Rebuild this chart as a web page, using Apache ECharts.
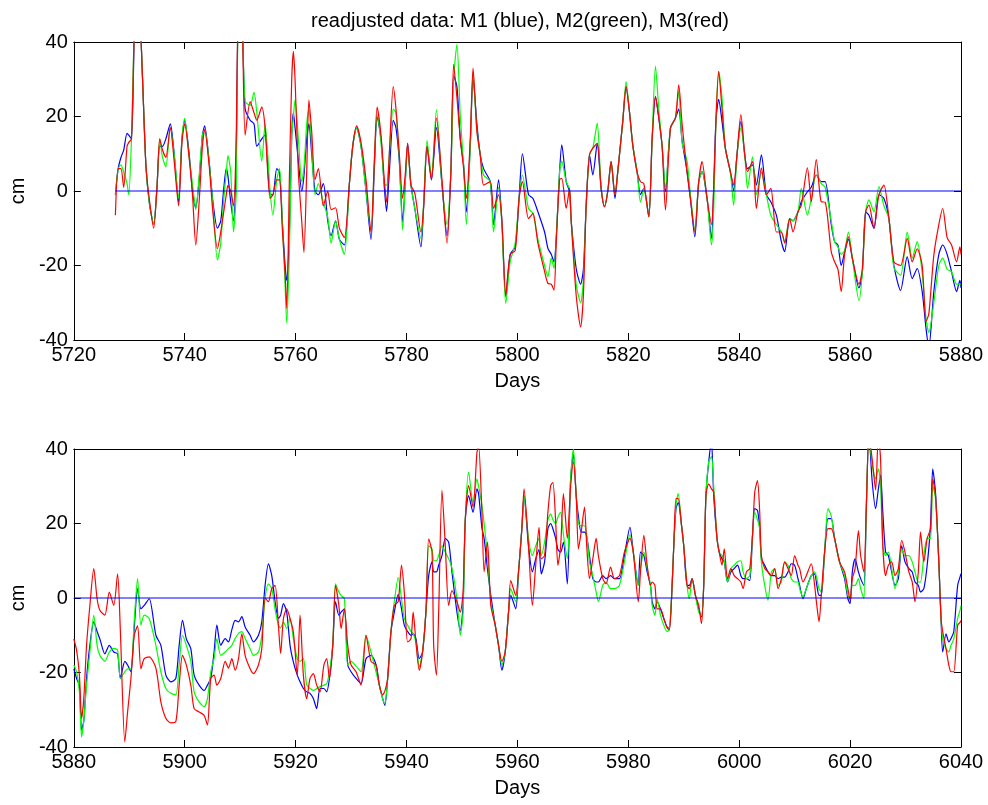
<!DOCTYPE html>
<html>
<head>
<meta charset="utf-8">
<script src="https://cdn.jsdelivr.net/npm/echarts@6/dist/echarts.min.js"></script>
<style>
  html, body { margin: 0; padding: 0; background: #ffffff; }
  #chart { width: 988px; height: 805px; }
</style>
</head>
<body>
<div id="chart"></div>
<script>
// ---- Upper panel: days 5720 - 5880 ----
const topDays = [5727.5,5728.0,5728.5,5729.0,5729.6,5729.9,5730.4,5731.0,5731.5,5732.0,5732.4,5733.0,5733.6,5734.4,5735.0,5735.5,5736.0,5736.6,5737.4,5738.1,5738.9,5739.5,5740.0,5740.8,5741.4,5742.0,5742.6,5743.2,5743.6,5744.4,5745.1,5745.9,5746.5,5747.0,5747.5,5747.8,5748.3,5748.8,5749.3,5749.6,5750.0,5750.4,5750.9,
  5751.8,5752.5,5753.0,5753.9,5754.5,5755.4,5755.9,5756.6,5757.1,5757.6,5758.1,5758.4,5758.9,5759.3,5759.6,5759.9,5760.5,5761.1,5761.5,5762.0,5762.4,5762.9,5763.5,5764.1,5765.0,5765.8,5766.4,5767.2,5767.9,5768.8,5769.7,5770.3,5771.0,5771.8,5772.7,5773.6,5774.2,5774.7,5775.4,5776.0,5776.4,5776.9,5777.6,
  5778.1,5778.7,5779.3,5779.8,5780.2,5780.8,5781.5,5782.6,5783.1,5783.7,5784.5,5785.4,5786.4,5787.3,5788.0,5788.5,5789.1,5789.7,5790.3,5790.8,5791.5,5792.0,5792.7,5793.3,5793.9,5795.1,5795.7,5796.6,5797.2,5797.9,5798.7,5799.6,5800.3,5800.9,5802.0,5802.8,
  5803.7,5804.9,5805.5,5806.1,5806.6,5807.0,5807.6,5808.0,5808.8,5809.4,5809.7,5810.6,5811.4,5811.9,5812.4,5813.0,5813.6,5814.4,5815.1,5815.7,5816.3,5816.9,5817.6,5818.1,5819.0,5819.6,5820.2,5820.8,5821.6,5822.2,5822.8,5823.7,5824.3,5824.9,5825.5,5826.1,5826.7,5827.6,5828.5,5829.1,5829.7,
  5830.6,5831.2,5832.0,5832.7,5833.3,5834.2,5835.0,5835.4,5835.8,5836.3,5836.9,5837.5,5838.4,5839.0,5839.6,5840.3,5841.0,5841.5,5842.4,5843.1,5844.0,5844.9,5845.7,5846.7,5847.6,5848.2,5849.1,5849.7,5850.6,5851.2,5852.3,5853.0,5853.9,5854.8,5855.5,
  5856.6,5857.2,5857.8,5858.4,5859.0,5859.7,5860.4,5861.6,5862.2,5862.8,5863.4,5864.3,5865.2,5866.1,5867.0,5867.9,5869.1,5870.3,5871.2,5872.1,5873.0,5873.7,5874.2,5875.1,5876.0,5876.7,5877.5,5878.3,5879.2,5879.8,5880.0];

const topM1 = [-1,6,9,11,15.5,15,14,48,55,45,30,7,-3,-9,1,12,12,14,18,10,-3,14,19,10,0,-4.5,3,15,17.5,8,-3,-10,-8,0,6,4,-3,-8,10,48,55,45,22,
  19,18,12,14,15,-1,-1,6,5,-8,-20,-24,-10,15,21,17,8,0,4,14,18,10,0,-1,2,-8,-12,-8,-13,-14.5,2,12,17,12,0,-13,6,20,14,1,-5.5,5,19,
  17,8,-8.3,3,12.8,1.6,-4.7,-15,-4,12,3,17,1.6,-12,5,31,28,14,7,-5.6,12.4,30.3,18,9.7,6,2.5,-9,3,-8,-28.4,-17,-15,-2,10,-1,-2,
  -5.6,-11,-15.4,-17,-19,-12.7,5,12.4,2.5,-0.2,-8,-20.8,-25,-21,-4,9.7,4.3,12.8,0.7,-4.2,0,7.9,-2,5.2,18.7,28,21.4,12.4,5,-1,0.7,-6.9,14,25.4,19.6,12,-0.2,16.9,19.6,22,13.5,
  5.2,-2,-12.3,2.5,5.2,-2,-12.7,0.7,18.7,24.6,18.7,11.5,5.2,0,9.7,18.7,9.7,6,7,1.6,9.7,-1,-2.9,-6.5,-13.6,-16.3,-7.4,-8,-5.6,-2.9,-0.2,1,4.3,2.5,2.5,
  -9,-13.6,-14.5,-20,-16.5,-13,-18,-26,-22,-5.6,-6.5,-10,-1,-2,-7.4,-20,-26.7,-17.7,-23.5,-20.8,-27,-37,-42,-27,-17,-14.5,-17,-21.7,-27,-24,-26];

const topM2 = [-1,6,7,5,2,-1,14,48,55,45,30,7,-3,-9,1,14,9,6.5,17,10,-2,14,19.5,9,2,-5,4,15,16.5,8,-4,-18.5,-14,-3,5,9.5,5,-11,0,48,55,45,24,
  23,26.5,21,8,18,0,-6.5,3,6,-8,-25,-35.5,-15,15,20,24.5,14,2.5,6,18,22,12,-1,2,-3,-7,-14,-8,-13,-17,2,12,17,12,0,-11,8,20.5,13,2,1.5,10,22,
  21,9,-10.5,3,12,1.6,-4.7,-12.7,-3,13.5,4,21.8,1.6,-9,5,30,39.4,20,7,-9,12,32,16,9.7,4.3,2.5,-11,1,-9,-30.2,-19,-14,-2,4.3,-4.7,-6,
  -13,-20,-23,-18,-20.7,-12.7,5,8,2.5,0.5,-8,-25,-30,-24,-4,9.7,11.5,18.2,0.7,-4.2,0,7.9,-1,5.2,18.7,29.4,21.4,12.4,5,-3,0.7,-6.9,14,33.5,22,12,0.7,16.9,19.6,26.8,13,
  8,-1,-10.5,2.5,5.2,-2,-14.5,-5,18.7,32.1,25,11.5,5.2,-3.8,9.7,16.9,9.7,0.7,9.2,-1,5,-1,-6.5,-9,-11,-13.6,-7.4,-8,-5.6,0.7,-6.5,-2,4.3,2,1,
  -8,-13.6,-15,-17,-16,-11,-18,-29.4,-22,-5.6,-2.4,-5.6,1.2,-4,-7.4,-20.6,-22.6,-11,-18,-13.6,-22,-34.3,-38,-30,-20,-18,-21,-21.7,-25,-25,-25];

const topM3 = [-6.5,6,6,1,12,13,14,48,55,45,30,7,-2,-10,1,14,11,9,17,8,-4,13,18,9,-1,-14.5,-3,12,16.5,7,-6,-15.5,-11,-6,-1,1.5,0,-4,15,48,55,45,15,
  24,21,19,22.5,17,-2,-1,3,3,-10,-22,-31.5,5,30,37.5,30,5,-8,-16.5,5,24.5,16,3,6,-4,0,-5,-4.5,-10,-12.5,2,12,17.5,13,3,-11,8,22.5,15,3,-3,10,28,
  22,10,-2,5,12.8,1.6,-0.6,-11,-4,12,3,19.6,3,-14,5,34,25,14,6,-2,14,33,16,9.7,1.6,2.5,-4.7,-1,-8,-28,-17,-16,-2,2.5,-7.4,-6,
  -14,-21.6,-24.8,-25,-26.6,-14,3,3.4,-4.7,0.7,-8,-28,-36.5,-28,-4,9.7,11.5,12.8,0.7,-4.2,0,7.9,-1,5.2,18.7,28,21.4,12.4,5,2.5,2,-6.9,14,25.4,19.6,12,-5.1,16.9,19.6,28.5,18,
  5,-2,-11,2.5,7.9,-2,-9,0.7,18.7,32.1,22,11.5,5.2,1.6,9.7,20.5,9.7,5.2,7.9,-4.7,6.2,-1,0.7,-11,-11,-14,-7.4,-11,-5.6,-3.8,6.2,-2.9,8.4,-2.9,-3,
  -16.3,-19,-21,-27,-17,-12.3,-18,-25,-21,-5.6,-3.8,-10,-1,1.6,-7.4,-19,-20,-12.7,-19,-15.5,-20,-35,-33,-17.2,-9,-4.7,-12.5,-14.5,-19,-15,-17];

// ---- Lower panel: days 5880 - 6040 ----
const botDays = [5880.0,5880.5,5881.0,5881.4,5881.8,5882.3,5882.9,5883.6,5884.2,5884.7,5885.6,5886.4,5887.2,5887.9,5888.4,5889.2,5889.7,5890.3,5890.9,5891.5,5892.1,5892.7,5893.6,5894.8,5895.7,5896.6,5897.5,5898.4,5899.0,5899.6,5900.3,5901.1,5901.7,5902.6,5903.5,5904.1,5904.7,5905.3,5905.8,
  5906.5,5907.3,5907.9,5908.5,5909.1,5909.7,5910.3,5910.9,5911.8,5912.4,5913.3,5913.9,5914.5,5915.1,5915.7,5916.3,5916.9,5917.3,5917.8,5918.4,5919.0,5919.6,5920.3,5920.8,5921.4,5922.0,5922.6,5923.2,5923.8,5924.4,5925.1,5925.6,5926.1,5926.7,5927.2,5927.8,5928.2,5928.8,5929.4,5930.0,5930.9,5931.8,5932.7,
  5933.6,5934.5,5935.1,5935.7,5936.1,5936.6,5937.2,5937.8,5938.5,5939.1,5939.6,5940.2,5940.8,5941.2,5941.7,5942.3,5942.9,5943.5,5944.0,5944.6,5944.9,5945.4,5945.8,5946.4,5947.0,5947.6,5948.2,5949.1,5949.7,5950.2,5950.6,5951.2,5952.0,5952.7,5953.0,5953.6,5954.0,5954.6,5955.2,5956.0,5956.6,5957.2,5957.8,5958.4,
  5958.8,5959.7,5960.2,5960.8,5961.2,5962.0,5962.7,5963.3,5963.9,5964.3,5964.9,5965.5,5966.0,5966.4,5966.9,5967.3,5967.8,5968.3,5969.0,5969.6,5970.1,5970.6,5971.0,5971.5,5972.1,5972.5,5973.0,5973.6,5974.2,5974.6,5975.4,5976.0,5976.8,5977.5,5978.4,5979.3,5980.3,5980.9,5981.8,5982.2,5982.8,5983.4,5984.0,
  5984.3,5984.8,5985.2,5985.8,5986.4,5987.0,5987.4,5987.8,5988.2,5988.6,5989.0,5989.6,5990.0,5990.6,5991.0,5991.5,5992.1,5992.7,5993.2,5993.6,5994.0,5994.5,5995.0,5995.4,5996.0,5996.4,5996.9,5997.3,5997.9,5998.5,5999.1,5999.7,6000.3,6000.7,6001.3,6001.9,6002.4,6002.8,6003.3,6003.7,6004.0,6004.6,6005.2,6005.8,6006.4,6007.0,6007.6,6008.2,6008.8,6009.4,6010.0,6010.6,
  6010.9,6011.5,6012.1,6013.0,6013.6,6014.0,6014.4,6014.8,6015.4,6016.0,6016.6,6017.2,6018.1,6019.0,6019.6,6020.0,6020.4,6020.9,6021.5,6021.9,6022.5,6022.9,6023.4,6024.0,6024.6,6025.1,6025.5,6025.9,6026.4,6026.9,6027.5,6028.1,6028.7,6029.3,6029.9,6030.6,6031.2,6031.7,6032.3,6032.7,6033.3,6033.9,6034.5,6034.9,6035.4,6036.0,6036.4,6036.7,6037.3,6037.8,6038.2,6038.7,6039.4,6039.9,6040.0];

const botM1 = [-19,-21.6,-23.5,-35.5,-33,-21.6,-12.7,-6.4,-9,-11,-15,-12.7,-14.5,-15,-21.6,-17,-18,-19.8,-8,2.5,-2.9,-2,-0.2,-10,-12.7,-20.7,-22.5,-21.6,-12.7,-6,-11,-13.6,-20.7,-23.4,-24.8,-23.4,-21.6,-14.5,-7.3,
  -12.7,-10.9,-11.8,-8.5,-6,-6.4,-5,-7.8,-10,-11.8,-10,-6.4,3.4,9.2,6,-1,-5.5,-4.6,-1.5,-3.8,-12.7,-17.2,-20.7,-22.5,-24.3,-25.2,-25.6,-27,-29.7,-24.3,-24.3,-25.2,-21.6,-12.7,-1,-4.6,-3.8,-2.9,-18,-19.8,-21.6,-23,-16.3,
  -15.4,-17.9,-23.4,-27,-28.8,-21.6,-9,-3.8,1,-2.9,-7.3,-9,-10,-9.6,-11,-16.3,-14.5,-3.8,6,9.7,7,7,8.8,11.4,16,15,7,-3.8,-8.7,-2,21,27.5,23,29.3,28,18.8,16,7.8,0.7,-7.3,-12.7,-19.4,-14.5,-3.8,
  0.7,-2.9,7,18.6,27.5,14,7,10.5,13,6.5,9.7,18.6,20,18.6,16,13,12.3,15,3.8,32,38.7,27.5,22,17.7,17.7,16.5,11.4,5.2,4.3,4.3,6,5.2,6,5.2,5.2,11.4,19,12.3,3.4,12.3,11.4,7,3.4,
  -1,-2.9,-1,-2.9,-5.5,-7.8,-8.2,0,14,24,25.6,19.5,14,3.4,3.4,5.2,0.7,-2.9,-5.1,3.4,27.5,36.5,42,27.5,15.9,12.3,10.5,9.7,4.3,7,7.9,8.8,6,5.2,5.2,4.7,16.8,24,23.5,18.6,10.5,8.8,7,6,6,5.2,5.6,5.6,7,9.2,8.8,5.2,
  3.4,-0.2,2.5,6,6.5,3.4,0.7,0.7,12.3,21.3,21.3,16,9.7,5.2,-0.2,-1.5,7,10.5,7,5.2,3.4,23,44,31,24,29.3,33,23,12.3,11.4,7,3.4,5.2,14,9.7,7.9,7,4.3,3.4,1.6,2.5,8.8,19.5,34.7,28.4,9.7,-5.5,-14.5,-9.6,-11.8,-10.9,-9,3.4,6,6.5];

const botM2 = [-18,-19.8,-25,-37.3,-33,-23.4,-14.5,-4.6,-12.7,-15.4,-17,-14.5,-13.5,-14,-21.6,-19.8,-19,-19,-6,5.2,-7.3,-4.6,-5.5,-12.7,-19.8,-24.3,-25.6,-26,-18,-10,-12.7,-17,-25.2,-27.9,-29.2,-27,-19.8,-16.3,-10.9,
  -15.4,-14.5,-13.6,-12.7,-10.9,-9.5,-9,-10.9,-13.6,-15.4,-14.5,-10,0,3.8,2.5,-3,-7.3,-8,-6.5,-8.2,-5.5,-10.9,-16.3,-17,-16.3,-23.4,-24.3,-24.8,-24.3,-23.8,-23.4,-23,-19.8,-12.7,3.8,1.6,0.7,-0.2,-18,-17,-18.3,-19.8,-10,
  -14.5,-19.8,-23.4,-27,-28.4,-21.6,-9,-1,5.5,-0.2,-5.5,-7.3,-9,-9.5,-12,-18.5,-14.5,-3.8,14,13.2,10,10,11.4,14,12.3,10.5,8,-0.2,-10,-4,21,33.8,25.6,32,30,25,20,11.4,-1,-7.3,-12.7,-18,-14.5,-3.8,
  2.5,-1,7,18.6,27.5,16,11.4,14,16,11.4,15,21,22.6,21,20,21.7,23,17,10.5,32,40,27.5,20,19.4,19.4,17,9.7,6,1.6,-1,3.4,4.3,2.5,2.5,3.4,9.7,17,12.3,3.4,8,12.3,8,3.4,
  -2,-4.6,-0.2,-4.6,-7.3,-9,-8.2,0,14,25,28,19.5,14,3.4,-0.2,5.2,0.7,-3.8,-4.6,3.4,27.5,36.5,38,30,15.9,12.3,11.4,10,4.3,7.9,8.8,9.7,10,7,5.2,6,16.8,23,21,18.6,9.7,3.4,-0.6,7,7.9,3.4,4.3,9.7,8.8,5.2,4.3,4.3,
  2.5,0.3,2.5,6,7,5.2,2.5,1.6,12.3,24,22,16,9.7,6,0.7,-0.2,3.4,3.4,5.2,2.5,-0.2,23,44,35.6,32,34.7,30,14,11.4,12.3,7.9,2.5,7,13.2,11.4,11.4,9.7,7,4.3,4.3,11.4,16,16,30.2,26.7,9.7,-5.5,-11,-13.6,-14.5,-12.7,-11,-5.5,-2.9,-2];

const botM3 = [-11,-14,-20.5,-32.3,-27,-12.7,-2,7.9,-0.2,-3.3,-4.6,1.6,-2,6.5,-9,-38.6,-30.6,-21.6,-10,-7.5,-19,-16.3,-15.8,-18.8,-27.9,-32.3,-33.5,-33.2,-23.4,-15.4,-18,-23.4,-29.7,-30.6,-31.5,-34.1,-21.6,-20.7,-23.4,
  -21.6,-17,-18.8,-16.3,-19.4,-16.3,-9.6,-15.4,-19,-20.3,-18,-13.6,0,-1,2.5,3.4,-7.3,-14.9,-5.5,-2.9,-5.5,-9.2,-20.7,-4.6,-20.7,-27,-21.6,-20.3,-23.4,-25.2,-18,-16.3,-21.6,-12.7,3.4,-2,-8.2,-2.9,-12.7,-18,-19.8,-23.4,-10,
  -17,-18,-23.4,-26,-25,-21.6,-9,-2,-1,8.8,1.6,-11.8,-11,-3.8,-11.8,-19.4,-14.5,-3.8,15.9,12.3,-12.7,-20.7,-3.8,28.9,14,-2,2,-1,-3.8,1.6,21,30.2,24.4,39,41,23,7,15,-2,-7.3,-12.7,-17,-14.5,-3.8,
  4.7,0.7,7,18.6,29.3,14,-2,8.8,19,10.5,11.4,23,30.2,31,20.5,8.8,14,28,16,30,36.5,27.5,13.2,17.7,24.4,14,5.2,10.5,16,11.4,5.2,3.8,8.3,5.2,6,12.3,16,12.3,-1,7,16.8,8.8,3.4,
  4.3,3.4,-2.9,-2.9,-5.5,-8,-8.6,0,14,26.7,26.7,19.5,14,3.4,2.5,5.2,0.7,-2,-6.9,3.4,27.5,30.6,29.3,28.4,15.9,12.3,8.8,13.2,5.2,7.9,6,5.2,4.3,2.5,7,7.9,16.8,28.4,31.5,23,11.4,7.9,7,6,7.9,2.5,5.2,9.7,7.9,6,11.4,8.8,
  7.9,4.3,6,9.2,3.4,-2,-6.4,0.7,12.3,18.6,18.6,16,9.7,7,2.5,-0.6,5.2,7.9,18.1,11.4,7,23,44,37,29,44,37,14,6,8.8,9.7,6,7.9,15.5,12.3,7,4.3,-1,7,17.7,9.7,16,18.6,32,27.5,9.7,-5.5,-9,-13.6,-18,-19.8,-19.8,-7.3,-6.4,-6];

// Axis ranges and tick spacing
const topRange = [5720, 5880];
const botRange = [5880, 6040];
const yRange = [-40, 40];
const xStep = 20;
const yStep = 20;

const FONT = 'Liberation Sans, Arial, Helvetica, sans-serif';
const FS = 20;
const COLORS = { m1: '#0000ff', m2: '#00ff00', m3: '#ff0000' };

function pairs(days, vals) {
  return days.map((d, i) => [d, vals[i]]);
}

function plain(v) { return String(v); }

function xAxis(grid, range, pos, labeled) {
  return {
    type: 'value', gridIndex: grid, position: pos,
    min: range[0], max: range[1], interval: xStep,
    name: labeled ? 'Days' : '', nameLocation: 'middle', nameGap: 31,
    nameTextStyle: { fontFamily: FONT, fontSize: FS, color: '#000' },
    axisLine: { show: true, onZero: false, lineStyle: { color: '#000', width: 1 } },
    axisTick: { show: true, inside: true, length: 7, lineStyle: { color: '#000' } },
    axisLabel: { show: labeled, formatter: plain, fontFamily: FONT, fontSize: FS, color: '#000', margin: 5 },
    splitLine: { show: false }
  };
}

function yAxis(grid, pos, labeled) {
  return {
    type: 'value', gridIndex: grid, position: pos,
    min: yRange[0], max: yRange[1], interval: yStep,
    name: labeled ? 'cm' : '', nameLocation: 'middle', nameGap: 41,
    nameTextStyle: { fontFamily: FONT, fontSize: FS, color: '#000' },
    axisLine: { show: true, onZero: false, lineStyle: { color: '#000', width: 1 } },
    axisTick: { show: true, inside: true, length: 7, lineStyle: { color: '#000' } },
    axisLabel: { show: labeled, formatter: plain, fontFamily: FONT, fontSize: FS, color: '#000', margin: 6 },
    splitLine: { show: false }
  };
}

function line(name, data, color, xi, yi, smooth) {
  return {
    name: name, type: 'line', data: data, xAxisIndex: xi, yAxisIndex: yi,
    showSymbol: false, symbol: 'none', smooth: smooth, clip: true,
    color: color, lineStyle: { color: color, width: 1.2 },
    silent: true, animation: false
  };
}

function panel(tag, days, m1, m2, m3, xi, yi) {
  const zero = [[days[0], 0], [days[days.length - 1], 0]];
  return [
    line('M1 ' + tag, pairs(days, m1), COLORS.m1, xi, yi, 0.25),
    line('M2 ' + tag, pairs(days, m2), COLORS.m2, xi, yi, 0.25),
    line('M3 ' + tag, pairs(days, m3), COLORS.m3, xi, yi, 0.25),
    line('zero ' + tag, zero, COLORS.m1, xi, yi, false)
  ];
}

const chart = echarts.init(document.getElementById('chart'), null, { renderer: 'canvas' });
chart.setOption({
  animation: false,
  backgroundColor: '#ffffff',
  title: {
    text: 'readjusted data: M1 (blue), M2(green), M3(red)',
    left: 515, top: 6, textAlign: 'center',
    textStyle: { fontFamily: FONT, fontSize: FS, fontWeight: 'normal', color: '#000' }
  },
  grid: [
    { left: 68, top: 42, width: 893, height: 298, show: false },
    { left: 68, top: 449, width: 893, height: 298, show: false }
  ],
  xAxis: [
    xAxis(0, topRange, 'bottom', true),
    xAxis(0, topRange, 'top', false),
    xAxis(1, botRange, 'bottom', true),
    xAxis(1, botRange, 'top', false)
  ],
  yAxis: [
    yAxis(0, 'left', true),
    yAxis(0, 'right', false),
    yAxis(1, 'left', true),
    yAxis(1, 'right', false)
  ],
  series: [].concat(
    panel('upper', topDays, topM1, topM2, topM3, 0, 0),
    panel('lower', botDays, botM1, botM2, botM3, 2, 2)
  )
});
</script>
</body>
</html>
